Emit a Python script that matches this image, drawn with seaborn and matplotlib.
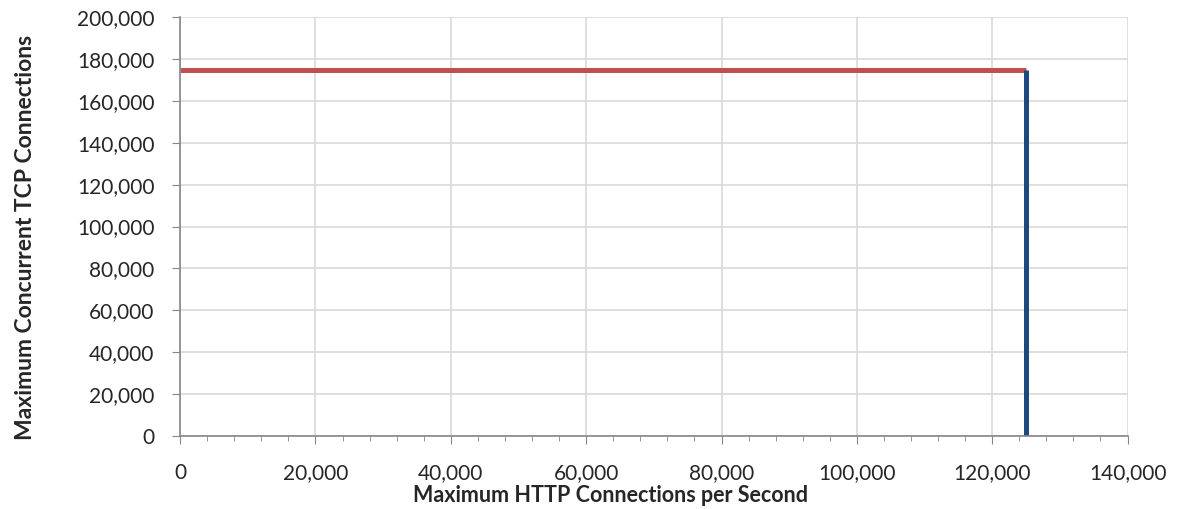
import numpy as np
import pandas as pd
import matplotlib
matplotlib.use("Agg")
import matplotlib.pyplot as plt
import seaborn as sns
from matplotlib.ticker import FuncFormatter, MultipleLocator

# Values
tcp_x = [0, 125000]          # concurrent TCP limit line (horizontal)
tcp_y = [174500, 174500]
http_x = [125000, 125000]    # HTTP cps limit line (vertical)
http_y = [0, 174500]

sns.set_style("whitegrid")
plt.rcParams['font.family'] = ['Lato', 'DejaVu Sans']

fig = plt.figure(figsize=(11.77, 5.09), dpi=100)
ax = fig.add_axes([0.153, 0.1434, 0.805, 0.8232])

tcp = pd.DataFrame({"x": tcp_x, "y": tcp_y})
http = pd.DataFrame({"x": http_x, "y": http_y})
sns.lineplot(data=tcp, x="x", y="y", ax=ax, color="#C0504D", linewidth=3.6,
             sort=False, estimator=None, solid_capstyle="butt")
sns.lineplot(data=http, x="x", y="y", ax=ax, color="#1F497D", linewidth=3.6,
             sort=False, estimator=None, solid_capstyle="butt")

ax.set_xlim(0, 140000)
ax.set_ylim(0, 200000)
ax.xaxis.set_major_locator(MultipleLocator(20000))
ax.xaxis.set_minor_locator(MultipleLocator(4000))
ax.yaxis.set_major_locator(MultipleLocator(20000))
fmt = FuncFormatter(lambda v, p: f"{int(v):,}")
ax.xaxis.set_major_formatter(fmt)
ax.yaxis.set_major_formatter(fmt)

ax.grid(True, which="major", color="#D9D9D9", linewidth=1.2)
ax.grid(False, which="minor")
for side in ["top", "right"]:
    ax.spines[side].set_visible(False)
for side in ["left", "bottom"]:
    ax.spines[side].set_color("#868686")
    ax.spines[side].set_linewidth(1.2)

ax.tick_params(axis="x", which="major", direction="out", length=5.5, color="#868686",
               labelsize=15, pad=14, bottom=True)
ax.tick_params(axis="x", which="minor", direction="out", length=3.5, color="#868686", bottom=True)
ax.tick_params(axis="y", which="major", direction="out", length=5.5, color="#868686",
               labelsize=15, pad=13, left=True)

ax.set_xlabel("Maximum HTTP Connections per Second", fontsize=15.5, fontweight="bold")
ax.set_ylabel("Maximum Concurrent TCP Connections", fontsize=16.5, fontweight="bold")
ax.xaxis.set_label_coords(0.4546, -0.117)
ax.yaxis.set_label_coords(-0.152, 0.475)

fig.savefig("out.png", dpi=100)
